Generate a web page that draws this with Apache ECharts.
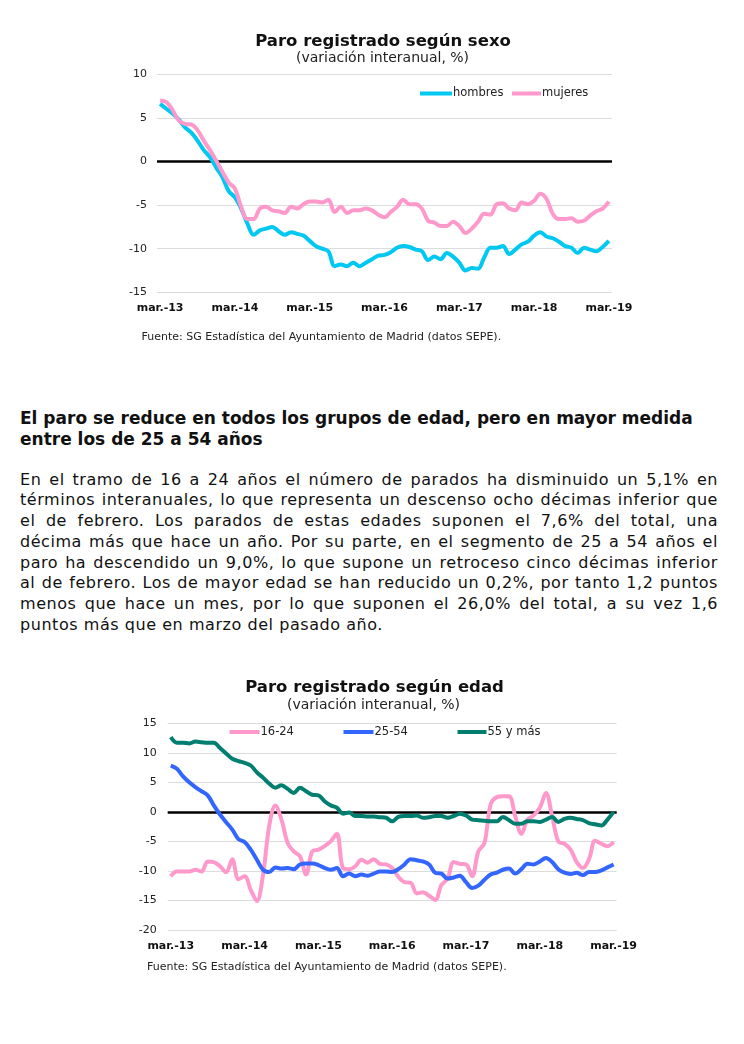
<!DOCTYPE html>
<html><head><meta charset="utf-8">
<script src="https://cdn.jsdelivr.net/npm/echarts@6/dist/echarts.min.js"></script>
<style>
body{margin:0;background:#fff;width:744px;height:1044px;position:relative;overflow:hidden;font-family:"DejaVu Sans",sans-serif;color:#111}
#c1{position:absolute;left:0;top:0;width:744px;height:360px}
#c2{position:absolute;left:0;top:650px;width:744px;height:344px}
#h{position:absolute;left:20px;top:408px;width:710px;font-weight:bold;font-size:17px;line-height:21px}
#p{position:absolute;left:20px;top:469.5px;width:698px;font-size:16px;letter-spacing:0.55px;line-height:20.75px}
#p div{text-align:justify;text-align-last:justify;white-space:nowrap}
#p div.last{text-align-last:left}
</style></head>
<body>
<div id="c1"></div>
<div id="h">El paro se reduce en todos los grupos de edad, pero en mayor medida<br>entre los de 25 a 54 años</div>
<div id="p">
<div>En el tramo de 16 a 24 años el número de parados ha disminuido un 5,1% en</div>
<div>términos interanuales, lo que representa un descenso ocho décimas inferior que</div>
<div>el de febrero. Los parados de estas edades suponen el 7,6% del total, una</div>
<div>décima más que hace un año. Por su parte, en el segmento de 25 a 54 años el</div>
<div>paro ha descendido un 9,0%, lo que supone un retroceso cinco décimas inferior</div>
<div>al de febrero. Los de mayor edad se han reducido un 0,2%, por tanto 1,2 puntos</div>
<div>menos que hace un mes, por lo que suponen el 26,0% del total, a su vez 1,6</div>
<div class="last">puntos más que en marzo del pasado año.</div>
</div>
<div id="c2"></div>
<script>
// ---- Data ----
const meses = ['ene.','feb.','mar.','abr.','may.','jun.','jul.','ago.','sep.','oct.','nov.','dic.'];
const categorias = [];
for (let k = 0; k < 73; k++) { const m = (2 + k) % 12; const y = 13 + Math.floor((2 + k) / 12); categorias.push(meses[m] + '-' + y); }

const hombres = [6.6,6.05,5.5,4.8,3.9,3.3,2.4,1.3,0.5,-0.7,-1.8,-3.4,-4.1,-5.4,-7.1,-8.4,-7.9,-7.7,-7.5,-8.0,-8.4,-8.1,-8.3,-8.5,
  -9.1,-9.7,-10.0,-10.3,-12.0,-11.8,-12.0,-11.6,-12.0,-11.6,-11.2,-10.8,-10.7,-10.4,-9.9,-9.7,-9.8,-10.1,-10.3,-11.3,-10.9,-11.2,-10.5,-10.9,
  -11.6,-12.5,-12.2,-12.3,-11.0,-9.9,-9.9,-9.7,-10.6,-10.1,-9.5,-9.2,-8.5,-8.1,-8.6,-8.8,-9.2,-9.7,-9.9,-10.5,-9.9,-10.1,-10.3,-9.8,-9.1];
const mujeres = [7.0,6.8,5.9,4.7,4.3,4.25,3.6,2.4,1.3,0.1,-1.2,-2.4,-3.1,-5.2,-6.6,-6.6,-5.4,-5.2,-5.6,-5.7,-5.9,-5.2,-5.4,-4.9,
  -4.6,-4.6,-4.7,-4.4,-5.8,-5.2,-5.9,-5.6,-5.6,-5.4,-5.6,-6.1,-6.4,-5.8,-5.2,-4.4,-4.9,-4.9,-5.4,-6.8,-7.0,-7.4,-7.4,-6.9,
  -7.4,-8.2,-7.7,-6.9,-6.0,-6.1,-4.9,-4.8,-5.4,-5.6,-4.7,-4.9,-4.5,-3.7,-4.3,-6.0,-6.6,-6.6,-6.5,-6.9,-6.8,-6.2,-5.7,-5.4,-4.6];

const edad16_24 = [-10.9,-10.1,-10.1,-10.1,-9.8,-10.1,-8.4,-8.5,-9.2,-10.2,-8.0,-11.4,-10.9,-13.2,-15.1,-10.6,-2.4,1.1,-1.3,-5.25,-6.7,-7.5,-10.6,-6.7,
  -6.4,-5.8,-5.0,-3.7,-9.5,-9.7,-9.2,-8.1,-8.6,-8.0,-8.8,-8.9,-9.5,-11.0,-11.9,-12.0,-13.8,-13.6,-14.2,-14.9,-12.4,-11.3,-8.5,-8.8,
  -8.9,-10.9,-6.7,-5.25,1.25,2.5,2.65,2.65,-0.7,-3.7,-1.3,-0.6,0.7,3.2,-0.7,-5.0,-5.4,-6.4,-8.5,-9.5,-8.0,-4.9,-5.4,-5.8,-5.1];
const edad25_54 = [7.85,7.3,6.0,5.0,4.2,3.5,2.8,1.1,-0.45,-1.75,-3.0,-4.6,-5.1,-6.4,-8.1,-9.8,-10.2,-9.4,-9.6,-9.5,-9.7,-8.9,-8.75,-8.75,
  -9.0,-9.5,-9.8,-9.5,-10.9,-10.45,-10.9,-10.6,-10.8,-10.45,-10.1,-10.1,-10.2,-9.7,-8.9,-8.0,-8.2,-8.4,-8.9,-10.3,-10.45,-11.3,-11.1,-10.8,
  -11.9,-12.9,-12.5,-11.5,-10.6,-10.3,-9.8,-9.6,-10.45,-9.7,-8.8,-8.9,-8.4,-7.8,-8.5,-9.7,-10.3,-10.5,-10.3,-10.7,-10.2,-10.2,-9.9,-9.4,-8.9];
const edad55 = [12.65,11.7,11.7,11.6,11.9,11.8,11.7,11.7,10.8,9.9,9.0,8.6,8.3,7.85,6.7,5.8,4.8,4.1,4.5,3.9,3.2,4.1,3.5,2.9,
  2.8,1.8,1.1,0.7,-0.3,-0.1,-0.7,-0.7,-0.8,-0.8,-0.9,-1.0,-1.6,-0.85,-0.7,-0.7,-0.6,-1.0,-0.9,-0.7,-0.7,-1.0,-0.7,-0.3,
  -0.6,-1.3,-1.4,-1.5,-1.6,-1.6,-0.85,-1.4,-2.0,-2.0,-1.6,-1.6,-1.7,-1.3,-0.85,-1.7,-1.2,-1.0,-1.2,-1.4,-1.9,-2.1,-2.3,-1.3,0.0];

const fuente = 'Fuente: SG Estadística del Ayuntamiento de Madrid (datos SEPE).';

// ---- Chart helpers ----
const FONT = '"DejaVu Sans", Verdana, sans-serif';
function lineSeries(name, data, color, withZero) {
  const s = {
    name, type: 'line', data, smooth: 0.35, symbol: 'none', showSymbol: false,
    lineStyle: { color, width: 4 }, itemStyle: { color }, z: 3
  };
  if (withZero) {
    s.markLine = {
      silent: true, symbol: 'none', label: { show: false },
      lineStyle: { color: '#000', width: 2.5, type: 'solid' },
      data: [{ yAxis: 0 }], z: 2
    };
  }
  return s;
}
function makeOption(cfg) {
  return {
    backgroundColor: '#fff',
    animation: false,
    title: [
      { text: cfg.title, left: cfg.titleX, top: cfg.titleY, textAlign: 'center', padding: 0,
        textStyle: { fontFamily: FONT, fontSize: 16.5, fontWeight: 'bold', color: '#111' } },
      { text: '(variación interanual, %)', left: cfg.subX, top: cfg.subY, textAlign: 'center', padding: 0,
        textStyle: { fontFamily: FONT, fontSize: 14, fontWeight: 'normal', color: '#222' } }
    ],
    legend: cfg.legends.map(l => ({
      data: [l.name], left: l.x, top: cfg.legendY, padding: 0, icon: 'rect',
      itemWidth: l.w, itemHeight: 4, selectedMode: false,
      textStyle: { fontFamily: FONT, fontSize: 11.5, color: '#222', padding: [0, 0, 0, -4] }
    })),
    grid: { left: cfg.gl, right: cfg.gr, top: cfg.gt, height: cfg.gh, containLabel: false },
    xAxis: {
      type: 'category', data: categorias, boundaryGap: true,
      axisLine: { show: false }, axisTick: { show: false }, splitLine: { show: false },
      axisLabel: { interval: 11, margin: cfg.xMargin, fontFamily: FONT, fontSize: 11, fontWeight: 'bold', color: '#111' }
    },
    yAxis: {
      type: 'value', min: cfg.ymin, max: cfg.ymax, interval: 5,
      axisLine: { show: false }, axisTick: { show: false },
      splitLine: { lineStyle: { color: '#dcdcdc', width: 1 } },
      axisLabel: { margin: cfg.yMargin, fontFamily: FONT, fontSize: 11, color: '#222' }
    },
    graphic: [{
      type: 'text', left: cfg.srcX, top: cfg.srcY,
      style: { text: fuente, font: '11px ' + FONT, fill: '#222' }
    }],
    series: cfg.series
  };
}

const chart1 = echarts.init(document.getElementById('c1'));
chart1.setOption(makeOption({
  title: 'Paro registrado según sexo', titleX: 383, titleY: 33.5, subX: 382.5, subY: 51.5,
  legendY: 87.5, legends: [{ name: 'hombres', x: 420, w: 32 }, { name: 'mujeres', x: 512, w: 29 }],
  gl: 157, gr: 132, gt: 74.3, gh: 218, xMargin: 10, yMargin: 10,
  ymin: -15, ymax: 10, srcX: 141.5, srcY: 331.5,
  series: [
    lineSeries('hombres', hombres, '#00C8F2', true),
    lineSeries('mujeres', mujeres, '#FF99CC', false)
  ]
}));

const chart2 = echarts.init(document.getElementById('c2'));
chart2.setOption(makeOption({
  title: 'Paro registrado según edad', titleX: 374.5, titleY: 29.5, subX: 373.5, subY: 48,
  legendY: 76, legends: [{ name: '16-24', x: 229.5, w: 30 }, { name: '25-54', x: 343.5, w: 30 }, { name: '55 y más', x: 457.5, w: 29 }],
  gl: 167.7, gr: 127.3, gt: 73.3, gh: 206.7, xMargin: 11, yMargin: 11,
  ymin: -20, ymax: 15, srcX: 147, srcY: 312,
  series: [
    lineSeries('16-24', edad16_24, '#FF99CC', true),
    lineSeries('25-54', edad25_54, '#3366FF', false),
    lineSeries('55 y más', edad55, '#007E6F', false)
  ]
}));
</script>
</body></html>
